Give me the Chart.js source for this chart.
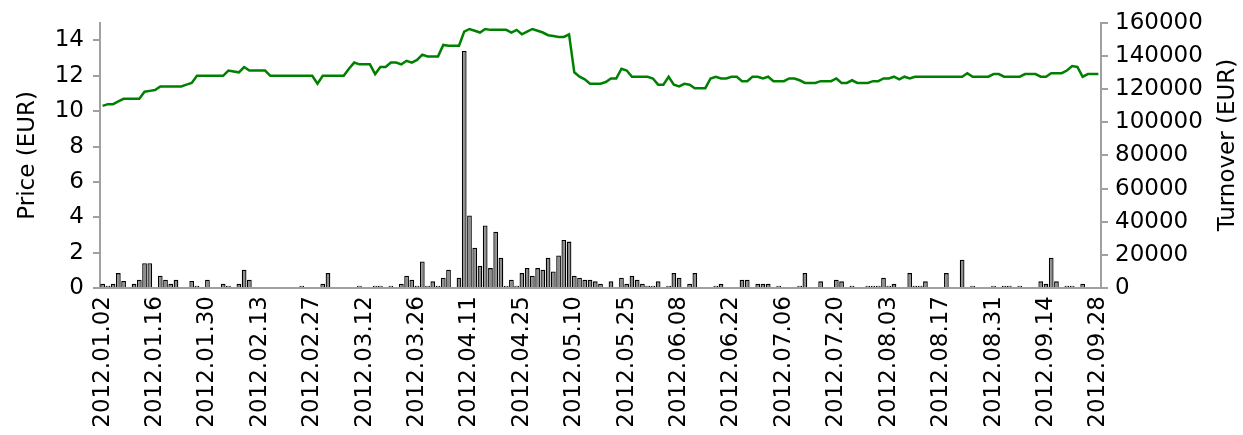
<!DOCTYPE html>
<html>
<head>
<meta charset="utf-8">
<script src="https://cdn.jsdelivr.net/npm/chart.js@4/dist/chart.umd.min.js"></script>
<style>
    body { margin: 0; background: #fff; }
    canvas { display: block; }
</style>
</head>
<body>
<canvas id="chartCanvas" width="1243" height="435"></canvas>
<script>
// trading days per month, 2012
const janDays = [2,3,4,5,6,9,10,11,12,13,16,17,18,19,20,23,24,25,26,27,30,31];
const febDays = [1,2,3,6,7,8,9,10,13,14,15,16,17,20,21,22,23,24,27,28,29];
const marDays = [1,2,5,6,7,8,9,12,13,14,15,16,19,20,21,22,23,26,27,28,29,30];
const aprDays = [2,3,4,5,10,11,12,13,16,17,18,19,20,23,24,25,26,27,30];
const mayDays = [2,3,4,7,8,9,10,11,14,15,16,18,21,22,23,24,25,28,29,30,31];
const junDays = [1,4,5,6,7,8,11,12,13,14,15,18,19,20,21,22,25,26,27,28,29];
const julDays = [2,3,4,5,6,9,10,11,12,13,16,17,18,19,20,23,24,25,26,27,30,31];
const augDays = [1,2,3,6,7,8,9,10,13,14,15,16,17,20,21,22,23,24,27,28,29,30,31];
const sepDays = [3,4,5,6,7,10,11,12,13,14,17,18,19,20,21,24,25,26,27,28];

const price = [
    10.3, 10.4, 10.4, 10.55, 10.7, 10.7, 10.7, 10.7, 11.1, 11.15,
    11.2, 11.4, 11.4, 11.4, 11.4, 11.4, 11.5, 11.6, 12.0, 12.0,
    12.0, 12.0, 12.0, 12.0, 12.3, 12.25, 12.2, 12.5, 12.3, 12.3,
    12.3, 12.3, 12.0, 12.0, 12.0, 12.0, 12.0, 12.0, 12.0, 12.0,
    12.0, 11.55, 12.0, 12.0, 12.0, 12.0, 12.0, 12.4, 12.75, 12.65,
    12.65, 12.65, 12.1, 12.5, 12.5, 12.75, 12.75, 12.65, 12.85, 12.75,
    12.9, 13.2, 13.1, 13.1, 13.1, 13.75, 13.7, 13.7, 13.7, 14.5,
    14.65, 14.55, 14.45, 14.65, 14.6, 14.6, 14.6, 14.6, 14.45, 14.6,
    14.35, 14.5, 14.65, 14.55, 14.45, 14.3, 14.25, 14.2, 14.2, 14.35,
    12.2, 11.95, 11.8, 11.55, 11.55, 11.55, 11.65, 11.85, 11.85, 12.4,
    12.3, 11.95, 11.95, 11.95, 11.95, 11.85, 11.5, 11.5, 11.95, 11.5,
    11.4, 11.55, 11.5, 11.3, 11.3, 11.3, 11.85, 11.95, 11.85, 11.85,
    11.95, 11.95, 11.7, 11.7, 11.95, 11.95, 11.85, 11.95, 11.7, 11.7,
    11.7, 11.85, 11.85, 11.75, 11.6, 11.6, 11.6, 11.7, 11.7, 11.7,
    11.85, 11.6, 11.6, 11.75, 11.6, 11.6, 11.6, 11.7, 11.7, 11.85,
    11.85, 11.95, 11.8, 11.95, 11.85, 11.95, 11.95, 11.95, 11.95, 11.95,
    11.95, 11.95, 11.95, 11.95, 11.95, 12.15, 11.95, 11.95, 11.95, 11.95,
    12.1, 12.1, 11.95, 11.95, 11.95, 11.95, 12.1, 12.1, 12.1, 11.95,
    11.95, 12.15, 12.15, 12.15, 12.3, 12.55, 12.5, 11.95, 12.1, 12.1,
    12.1
];

const turnover = [
    2600, 1400, 2600, 9000, 4200, 0, 2600, 5000, 15000, 15000,
    0, 7400, 5000, 2600, 5000, 0, 0, 4200, 1400, 0,
    5000, 0, 0, 2600, 1400, 0, 2600, 11000, 5000, 0,
    0, 0, 0, 0, 0, 0, 0, 0, 1400, 0,
    0, 0, 2600, 9000, 0, 0, 0, 0, 0, 1400,
    0, 0, 1400, 1400, 0, 1400, 0, 2600, 7400, 5000,
    1400, 16000, 1400, 4000, 1400, 6200, 11000, 0, 6200, 143000,
    43700, 24300, 13400, 37700, 12000, 34000, 18300, 1400, 5000, 1400,
    9000, 12000, 7400, 12000, 11000, 18300, 10000, 19600, 29000, 28000,
    7400, 6200, 5000, 5000, 4000, 2600, 0, 4000, 0, 6200,
    2600, 7400, 5000, 2600, 1400, 1400, 4000, 0, 1400, 9000,
    6200, 0, 2600, 9000, 0, 0, 0, 1400, 2600, 0,
    0, 0, 5000, 5000, 0, 2600, 2600, 2600, 0, 1400,
    0, 0, 0, 1400, 9000, 0, 0, 4000, 0, 0,
    5000, 4000, 0, 1400, 0, 0, 1400, 1400, 1400, 6200,
    1400, 2600, 0, 0, 9000, 1400, 1400, 4000, 0, 0,
    0, 9000, 0, 0, 17000, 0, 1400, 0, 0, 0,
    1400, 0, 1400, 1400, 0, 1400, 0, 0, 0, 4000,
    2600, 18300, 4000, 0, 1400, 1400, 0, 2600, 0, 0,
    0
];

const priceTicks = [0, 2, 4, 6, 8, 10, 12, 14];
const turnoverTicks = [0, 20000, 40000, 60000, 80000, 100000, 120000, 140000, 160000];
const LABEL_EVERY = 10;

const pad = n => String(n).padStart(2, '0');
const labels = [];
[janDays, febDays, marDays, aprDays, mayDays, junDays, julDays, augDays, sepDays].forEach((days, m) => {
    days.forEach(d => labels.push('2012.' + pad(m + 1) + '.' + pad(d)));
});

const FONT = "'DejaVu Sans', sans-serif";
const FONT_SIZE = 23;
const AXIS_COLOR = '#a0a0a0';

Chart.defaults.font.family = FONT;
Chart.defaults.font.size = FONT_SIZE;
Chart.defaults.color = '#000';

// right axis title reads bottom-to-top like the left one
const rightTitle = {
    id: 'rightTitle',
    afterDraw(chart) {
        const c = chart.ctx;
        c.save();
        c.font = FONT_SIZE + "px " + FONT;
        c.fillStyle = '#000';
        c.textAlign = 'center';
        c.textBaseline = 'middle';
        c.translate(1228, 145);
        c.rotate(-Math.PI / 2);
        c.fillText('Turnover (EUR)', 0, 0);
        c.restore();
    }
};

const ctx = document.getElementById('chartCanvas');

new Chart(ctx, {
    data: {
        labels: labels,
        datasets: [
            {
                type: 'line',
                label: 'Price',
                data: price,
                yAxisID: 'y',
                borderColor: '#008000',
                borderWidth: 2.5,
                pointRadius: 0,
                tension: 0,
                order: 0
            },
            {
                type: 'bar',
                label: 'Turnover',
                data: turnover,
                yAxisID: 'y1',
                backgroundColor: '#8c8c8c',
                borderColor: '#000',
                borderWidth: 1.3,
                barPercentage: 0.9,
                categoryPercentage: 1,
                order: 1
            }
        ]
    },
    options: {
        responsive: false,
        animation: false,
        devicePixelRatio: 1,
        layout: { padding: { top: 22, left: 0, right: 0, bottom: 0 } },
        plugins: {
            legend: { display: false },
            tooltip: { enabled: false }
        },
        scales: {
            x: {
                type: 'category',
                offset: true,
                grid: { display: false, drawTicks: false },
                border: { display: true, color: AXIS_COLOR, width: 2 },
                ticks: {
                    autoSkip: false,
                    maxRotation: 90,
                    minRotation: 90,
                    padding: 8,
                    callback: (v, i) => (i % LABEL_EVERY === 0 ? labels[i] : '')
                },
                afterFit: s => { s.height = 147; }
            },
            y: {
                position: 'left',
                min: 0,
                max: 15,
                grid: { display: true, drawOnChartArea: false, drawTicks: true, tickLength: 7, color: AXIS_COLOR, lineWidth: 2 },
                border: { display: true, color: AXIS_COLOR, width: 2 },
                ticks: { padding: 9 },
                afterBuildTicks: s => { s.ticks = priceTicks.map(v => ({ value: v })); },
                title: { display: true, text: 'Price (EUR)', padding: { top: 14, bottom: 0 } },
                afterFit: s => { s.width = 100; }
            },
            y1: {
                position: 'right',
                min: 0,
                max: 160000,
                grid: { display: true, drawOnChartArea: false, drawTicks: true, tickLength: 7, color: AXIS_COLOR, lineWidth: 2 },
                border: { display: true, color: AXIS_COLOR, width: 2 },
                ticks: { padding: 7, callback: v => String(v) },
                afterBuildTicks: s => { s.ticks = turnoverTicks.map(v => ({ value: v })); },
                afterFit: s => { s.width = 142; }
            }
        }
    },
    plugins: [rightTitle]
});
</script>
</body>
</html>
